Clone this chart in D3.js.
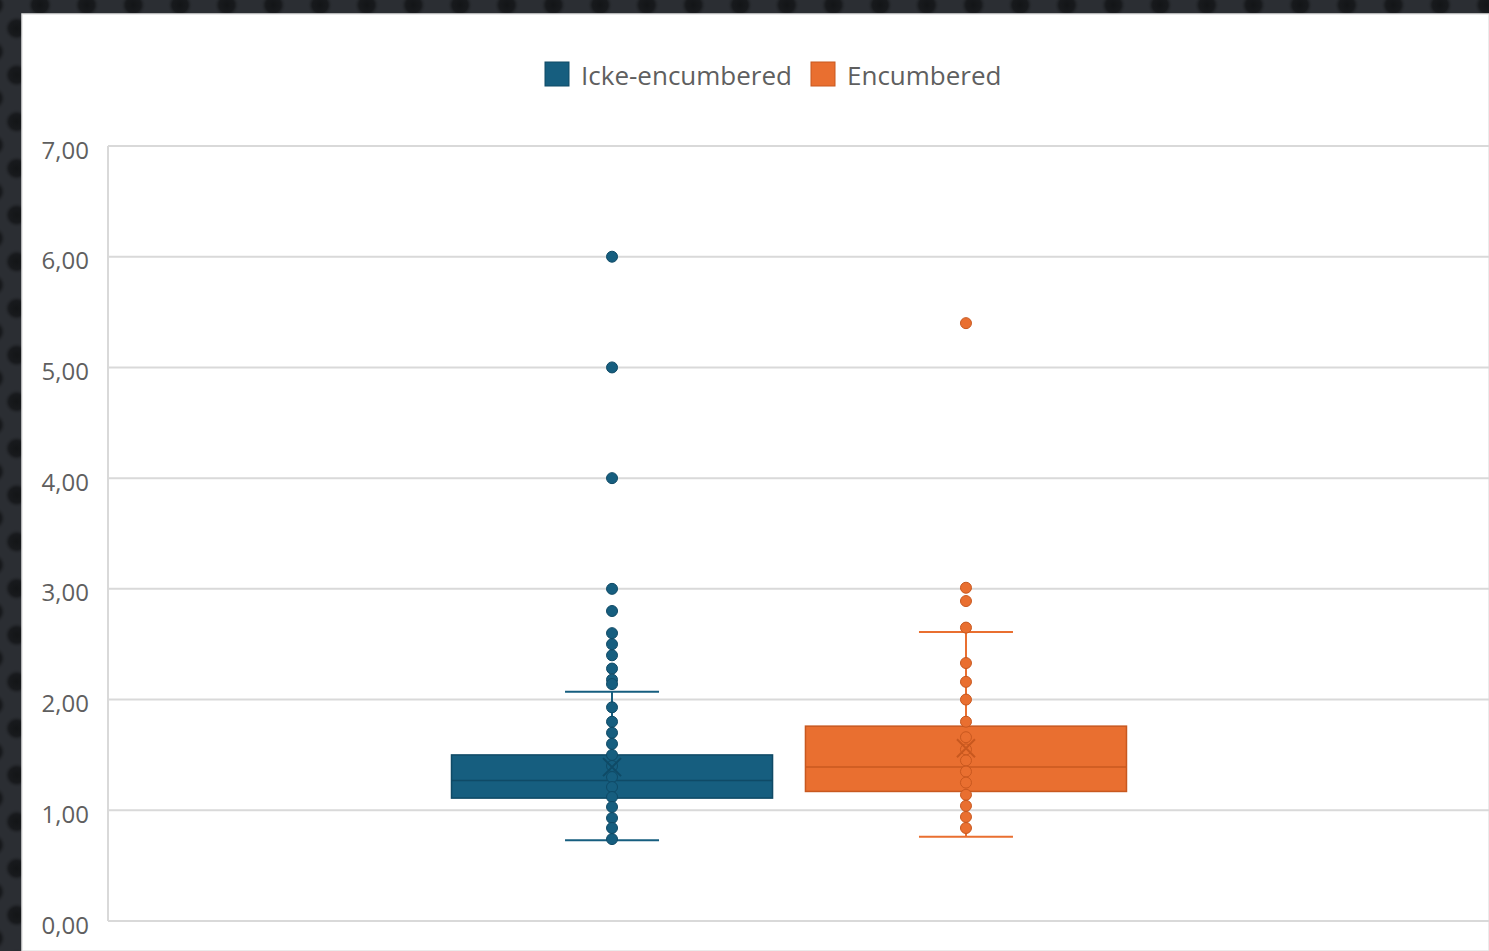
<!DOCTYPE html>
<html>
<head>
<meta charset="utf-8">
<script src="https://cdn.jsdelivr.net/npm/d3@7"></script>
<style>
  body { margin: 0; background: #2b2e33; overflow: hidden; }
  svg { display: block; font-family: "Open Sans", "Noto Sans", sans-serif; }
</style>
</head>
<body>
<div id="chart"></div>
<script>
// series and box statistics
const series = ["Icke-encumbered", "Encumbered"];
const colors = ["#165e7f", "#e96f30"];
const darkColors = ["#0f4a66", "#c8581f"];
const whiskerLow = [0.73, 0.76];
const quartile1 = [1.11, 1.17];
const medians = [1.27, 1.39];
const quartile3 = [1.50, 1.76];
const whiskerHigh = [2.07, 2.61];
const means = [1.39, 1.56];
const pointsIcke = [6.00, 5.00, 4.00, 3.00, 2.80, 2.60, 2.50, 2.40, 2.28, 2.18, 2.14,
    1.93, 1.80, 1.70, 1.60, 1.50, 1.40, 1.30, 1.21, 1.12, 1.03, 0.93, 0.84, 0.74];
const pointsEnc = [5.40, 3.01, 2.89, 2.65, 2.33, 2.16, 2.00, 1.80, 1.66, 1.55, 1.45,
    1.35, 1.25, 1.14, 1.04, 0.94, 0.84];
const yTicks = [0, 1, 2, 3, 4, 5, 6, 7];

const W = 1489, H = 951;
const margin = {top: 146, left: 108, bottom: 30};
const plotBottom = H - margin.bottom;

const svg = d3.select("#chart").append("svg")
    .attr("width", W)
    .attr("height", H);

// dark dotted backdrop (staggered dots)
const tile = 46.67;
const defs = svg.append("defs");
const grad = defs.append("radialGradient").attr("id", "dotGrad");
grad.append("stop").attr("offset", "0%").attr("stop-color", "#131517");
grad.append("stop").attr("offset", "60%").attr("stop-color", "#181a1d");
grad.append("stop").attr("offset", "100%").attr("stop-color", "#2b2e33").attr("stop-opacity", 0);
const pat = defs.append("pattern")
    .attr("id", "dots")
    .attr("patternUnits", "userSpaceOnUse")
    .attr("width", tile).attr("height", tile)
    .attr("x", 40).attr("y", 5);
pat.append("rect").attr("width", tile).attr("height", tile).attr("fill", "#2b2e33");
pat.selectAll("circle")
    .data([[0, 0], [tile, 0], [0, tile], [tile, tile], [tile / 2, tile / 2]])
    .join("circle")
    .attr("cx", d => d[0]).attr("cy", d => d[1])
    .attr("r", 13)
    .attr("fill", "url(#dotGrad)");
svg.append("rect").attr("width", W).attr("height", H).attr("fill", "url(#dots)");

// white panel
svg.append("rect")
    .attr("x", 22).attr("y", 14)
    .attr("width", W - 22).attr("height", H - 14)
    .attr("fill", "#fff")
    .attr("stroke", "#e4e4e4")
    .attr("stroke-width", 1.5);

const y = d3.scaleLinear()
    .domain([0, 7])
    .range([plotBottom, margin.top]);

const x = d3.scaleBand()
    .domain(series)
    .range([margin.left, 1470])
    .paddingInner(0)
    .paddingOuter(0.924);

const boxW = x.bandwidth() * 0.907;
const capW = 94;

// grid lines
svg.append("g")
    .selectAll("line")
    .data(yTicks)
    .join("line")
    .attr("x1", margin.left)
    .attr("x2", W)
    .attr("y1", d => y(d))
    .attr("y2", d => y(d))
    .attr("stroke", "#d9d9d9")
    .attr("stroke-width", 2);

// left border of plot area
svg.append("line")
    .attr("x1", margin.left).attr("x2", margin.left)
    .attr("y1", y(7)).attr("y2", y(0))
    .attr("stroke", "#d9d9d9")
    .attr("stroke-width", 2);

// tick labels
svg.append("g")
    .selectAll("text")
    .data(yTicks)
    .join("text")
    .attr("x", 89)
    .attr("y", d => y(d) + 4)
    .attr("dy", "0.36em")
    .attr("text-anchor", "end")
    .attr("fill", "#5f5f5f")
    .style("font-size", "24px")
    .text(d => d3.format(".2f")(d).replace(".", ","));

// boxes
const allPoints = [pointsIcke, pointsEnc];
series.forEach((s, i) => {
    const cx = x(s) + x.bandwidth() / 2;
    const g = svg.append("g");

    // whisker
    g.append("line")
        .attr("x1", cx).attr("x2", cx)
        .attr("y1", y(whiskerLow[i])).attr("y2", y(whiskerHigh[i]))
        .attr("stroke", colors[i]).attr("stroke-width", 2);
    g.selectAll("line.cap")
        .data([whiskerLow[i], whiskerHigh[i]])
        .join("line")
        .attr("class", "cap")
        .attr("x1", cx - capW / 2).attr("x2", cx + capW / 2)
        .attr("y1", d => y(d)).attr("y2", d => y(d))
        .attr("stroke", colors[i]).attr("stroke-width", 2);

    // box
    g.append("rect")
        .attr("x", cx - boxW / 2)
        .attr("y", y(quartile3[i]))
        .attr("width", boxW)
        .attr("height", y(quartile1[i]) - y(quartile3[i]))
        .attr("fill", colors[i])
        .attr("stroke", darkColors[i])
        .attr("stroke-width", 1.5);

    // median
    g.append("line")
        .attr("x1", cx - boxW / 2).attr("x2", cx + boxW / 2)
        .attr("y1", y(medians[i])).attr("y2", y(medians[i]))
        .attr("stroke", darkColors[i]).attr("stroke-width", 1.5);

    // points
    g.selectAll("circle")
        .data(allPoints[i])
        .join("circle")
        .attr("cx", cx)
        .attr("cy", d => y(d))
        .attr("r", 5.5)
        .attr("fill", colors[i])
        .attr("stroke", darkColors[i])
        .attr("stroke-width", 1);

    // mean marker
    const m = 9;
    const my = y(means[i]);
    g.append("path")
        .attr("d", `M${cx - m},${my - m}L${cx + m},${my + m}M${cx - m},${my + m}L${cx + m},${my - m}`)
        .attr("stroke", darkColors[i])
        .attr("stroke-width", 2)
        .attr("fill", "none");
});

// legend
const legend = svg.append("g").attr("transform", "translate(545, 62)");
const lx = [0, 266];
series.forEach((s, i) => {
    const item = legend.append("g").attr("transform", `translate(${lx[i]}, 0)`);
    item.append("rect")
        .attr("width", 24).attr("height", 24)
        .attr("fill", colors[i])
        .attr("stroke", darkColors[i])
        .attr("stroke-width", 1);
    item.append("text")
        .attr("x", 36)
        .attr("y", 14)
        .attr("dy", "0.36em")
        .attr("fill", "#5f5f5f")
        .style("font-size", "26px")
        .text(s);
});
</script>
</body>
</html>
